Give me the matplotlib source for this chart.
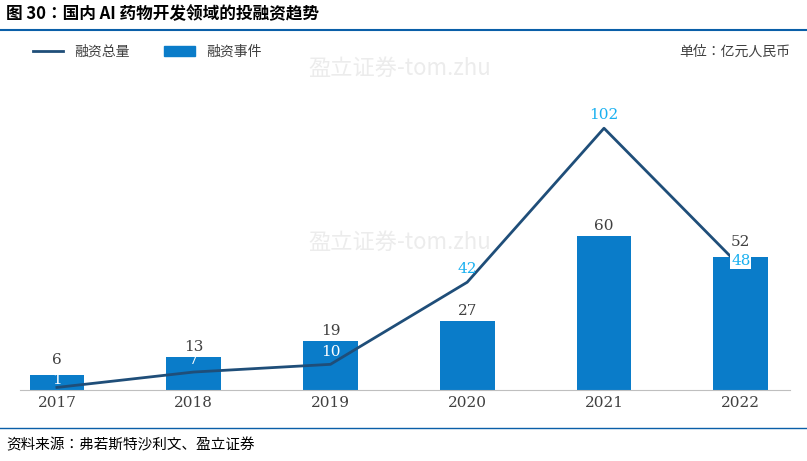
import matplotlib.pyplot as plt
from matplotlib import font_manager
from matplotlib.lines import Line2D
from matplotlib.patches import Patch

# 找中文字体
cjk = [f for f in font_manager.fontManager.ttflist if 'CJK' in f.name]
cjk_name = sorted(set(f.name for f in cjk))
pick = next((n for n in ['Noto Sans CJK SC', 'Noto Sans CJK JP'] if n in cjk_name),
            cjk_name[0] if cjk_name else 'DejaVu Sans')
plt.rcParams['font.family'] = [pick, 'DejaVu Sans']

years = ['2017', '2018', '2019', '2020', '2021', '2022']
events = [6, 13, 19, 27, 60, 52]      # 融资事件
amount = [1, 7, 10, 42, 102, 48]      # 融资总量（亿元）

bar_color = '#0a7cc9'
line_color = '#1f4e79'
W, H = 807, 461

fig = plt.figure(figsize=(W / 100, H / 100), dpi=100)
ax = fig.add_axes([20 / W, 1 - 390 / H, 770 / W, 290 / H])
x = list(range(len(years)))

ax.bar(x, events, width=0.4, color=bar_color, zorder=2)
ax.plot(x, amount, color=line_color, lw=2, zorder=3)

for i, v in enumerate(events):
    dy = 3.0 if i in (0, 5) else 1.2
    ax.text(i, v + dy, str(v), ha='center', va='bottom', fontsize=11,
            color='#404040', family='DejaVu Serif')
for i, v in enumerate(amount):
    c = 'white' if i < 3 else '#19b0f0'
    dy = {0: 0.3, 5: -0.5}.get(i, 2.0 if i < 3 else 2.5)
    box = dict(facecolor='white', edgecolor='none', pad=0.5) if i == 5 else None
    ax.text(i, v + dy, str(v), ha='center', va='bottom', fontsize=11,
            color=c, family='DejaVu Serif', zorder=4, bbox=box)

ax.set_xlim(-0.27, 5.36)
ax.set_ylim(0, 113)
ax.set_xticks(x)
ax.set_xticklabels(years, family='DejaVu Serif', fontsize=11, color='#404040')
ax.tick_params(axis='x', length=0, pad=4)
ax.set_yticks([])
for s in ['top', 'right', 'left']:
    ax.spines[s].set_visible(False)
ax.spines['bottom'].set_color('#bfbfbf')

handles = [Line2D([0], [0], color=line_color, lw=2),
           Patch(color=bar_color)]
fig.legend(handles, ['融资总量', '融资事件'], loc='center left',
           bbox_to_anchor=(20 / W, 1 - 52 / H), ncol=2, frameon=False,
           fontsize=10, handlelength=2.2, columnspacing=2.5,
           labelcolor='#404040')
fig.text(790 / W, 1 - 52 / H, '单位：亿元人民币', ha='right', va='center',
         fontsize=10, color='#404040')

# 标题与来源
fig.text(6 / W, 1 - 14 / H, '图 30：国内 AI 药物开发领域的投融资趋势', ha='left',
         va='center', fontsize=12, weight='bold', color='black')
fig.add_artist(Line2D([0, 1], [1 - 30 / H, 1 - 30 / H], color='#0a5fa8', lw=1.5))
fig.add_artist(Line2D([0, 1], [1 - 428 / H, 1 - 428 / H], color='#0a5fa8', lw=1))
fig.text(6 / W, 1 - 445 / H, '资料来源：弗若斯特沙利文、盈立证券', ha='left',
         va='center', fontsize=10.5, color='black')

# 水印
for wx, wy in [(400, 68), (400, 242)]:
    fig.text(wx / W, 1 - wy / H, '盈立证券-tom.zhu', ha='center', va='center',
             fontsize=16, color='#ececec', zorder=0)

fig.savefig('out.png', dpi=100)
